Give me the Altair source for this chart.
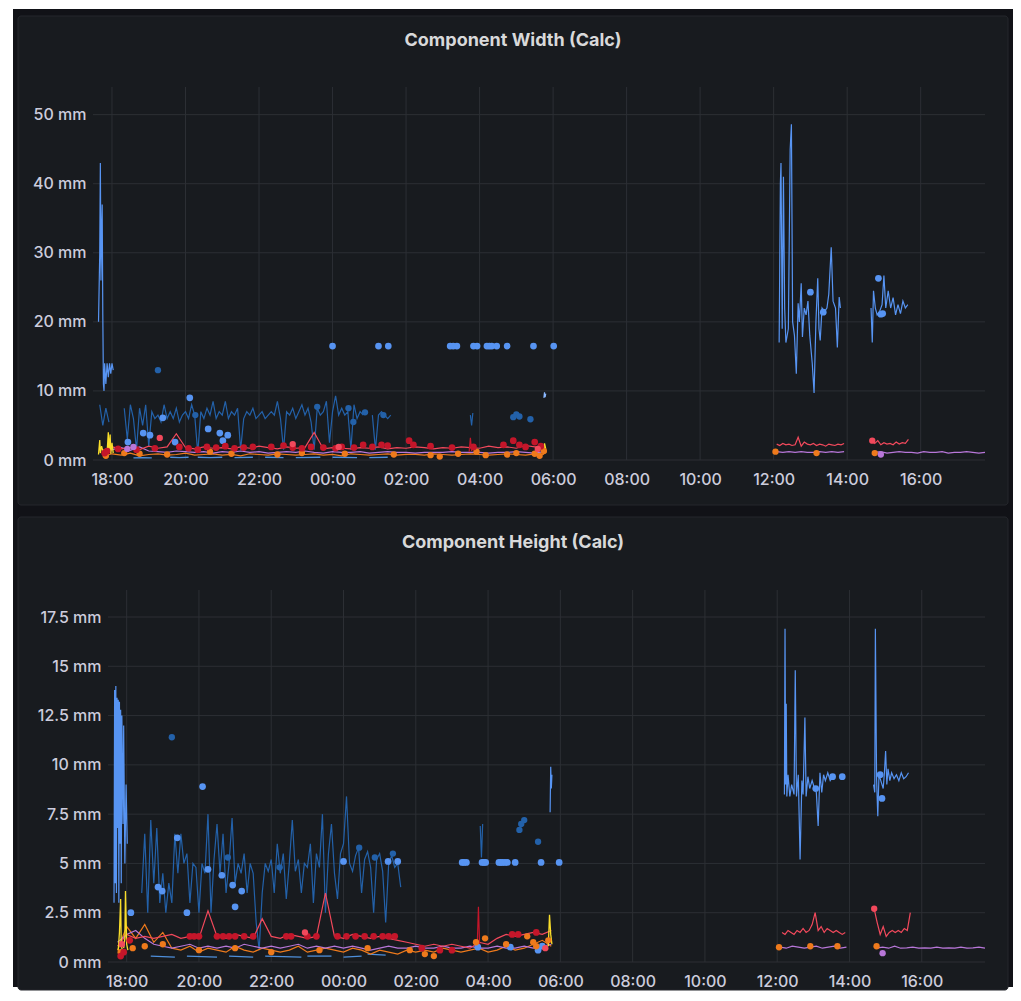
import altair as alt
import pandas as pd

# ---------------- labels / ticks ----------------
W_TITLE = "Component Width (Calc)"
H_TITLE = "Component Height (Calc)"
X_TICKS = ["18:00", "20:00", "22:00", "00:00", "02:00", "04:00", "06:00",
           "08:00", "10:00", "12:00", "14:00", "16:00"]
W_Y_TICKS = [0, 10, 20, 30, 40, 50]
H_Y_TICKS = [0, 2.5, 5, 7.5, 10, 12.5, 15, 17.5]

# ---------------- colours ----------------
C_LB = "#5794F2"
C_DB = "#2361a9"
C_XL = "#8AB8FF"
C_RED = "#F2495C"
C_DRED = "#C4162A"
C_ORANGE = "#EE7A1C"
C_PURPLE = "#B877D9"
C_YELLOW = "#FADE2A"
C_TEAL = "#4E8FDB"
OUTER = "#111217"
PANEL = "#181b1f"
BORDER = "#25272c"
GRID = "#2c2f34"
LABEL = "#ccccdc"
TITLE_C = "#d8d9da"

# ================= WIDTH panel data (mm) =================
W_LB_LINE = [
    ("17:38", 20), ("17:40", 30), ("17:41", 43), ("17:42", 26), ("17:43", 33), ("17:44", 37),
    ("17:45", 21), ("17:46", 11), ("17:47", 10), ("17:48", 14), ("17:50", 11), ("17:52", 14),
    ("17:54", 12), ("17:56", 14), ("17:58", 12.5), ("18:00", 14), ("18:02", 13),
    None,
    ("12:09", 17), ("12:11", 40), ("12:12", 43), ("12:14", 19), ("12:16", 41), ("12:18", 22),
    ("12:20", 17), ("12:24", 19), ("12:27", 45), ("12:29", 48.6), ("12:31", 20), ("12:34", 18),
    ("12:37", 12.5), ("12:40", 22.7), ("12:42", 20), ("12:45", 25.6), ("12:47", 17.8),
    ("12:50", 22), ("12:53", 21), ("12:56", 23), ("12:59", 18), ("13:03", 14), ("13:06", 9.7),
    ("13:09", 20), ("13:12", 26.3), ("13:14", 19), ("13:16", 17.3), ("13:19", 22),
    ("13:23", 21.5), ("13:27", 22), ("13:30", 24), ("13:34", 30.8), ("13:37", 23),
    ("13:41", 22), ("13:44", 16.3), ("13:47", 23.6), ("13:49", 22),
    None,
    ("14:39", 22), ("14:41", 17), ("14:43", 24.5), ("14:46", 22), ("14:49", 21), ("14:53", 21.5),
    ("14:57", 22.5), ("15:00", 26.7), ("15:03", 22), ("15:07", 24.5), ("15:11", 22),
    ("15:15", 23.5), ("15:19", 21), ("15:23", 22.5), ("15:27", 21.2), ("15:31", 23),
    ("15:35", 22), ("15:39", 22.5),
]
W_LB_PTS = [
    ("18:26", 2.6), ("18:51", 3.9), ("19:02", 3.6), ("19:23", 6.1), ("19:43", 2.6),
    ("20:07", 9.0), ("20:37", 4.5), ("20:56", 3.9), ("21:01", 2.8), ("21:09", 3.6),
    ("00:00", 16.5), ("01:15", 16.5), ("01:31", 16.5), ("03:12", 16.5), ("03:17", 16.5),
    ("03:23", 16.5), ("03:50", 16.5), ("03:56", 16.5), ("04:12", 16.5), ("04:16", 16.5),
    ("04:20", 16.5), ("04:28", 16.5), ("04:45", 16.5), ("05:28", 16.5), ("06:01", 16.5),
    ("13:00", 24.3), ("13:21", 21.4), ("14:51", 26.3), ("14:55", 21.1), ("14:58", 21.2),
]
W_DB_START, W_DB_STEP = "17:40", 5
W_DB_VALS = [
    8, 5, 7.5, 5.5,
    None, None, None, None, 7.5, 3, 8, 6, 1.5, 7.5, 5, 8,
    2, 7, 6, 6.5, 5.5, 8, 6, 7, 6, 7.5, 5.5, 6.5,
    7, 6, 8, 6.5, 1, 7, 6, 7.5, 6.5, 8.5, 6, 7,
    6.5, 8.5, 6, 7, 6.5, 7.5, 1.5, 6, 7, 6.5, 7.5, 6,
    6.5, 7, 6, 6.5, 7, 6.5, 8.5, 6, 1.5, 7, 6.5, 7.5,
    6, 7, 8, 6.5, 7.5, 5.5, 1.5, 7.5, 6.5, 7, 8.5, 2.5,
    7, 9.3, 6.5, 7.5, 6.5, 7, 1.5, 8, 6, 7, 6.5, None,
    None, 6.5, 1.5, 6.5, 7, 6.5, 6, 6.5,
]
W_DB_EXTRA = [("03:45", 6.5), ("03:47", 5.0), ("03:49", 6.8)]
W_DB_PTS = [
    ("19:15", 13.0), ("20:16", 6.5), ("23:35", 7.7), ("00:26", 7.5), ("00:34", 5.5),
    ("00:53", 6.9), ("01:23", 6.5), ("04:55", 6.2), ("05:00", 6.6), ("05:05", 6.3), ("05:23", 5.9),
]
W_XL_LINE = [("05:45", 9.0), ("05:46", 9.8), ("05:47", 9.1), ("05:48", 9.6)]

SMALL_START, SMALL_STEP = "17:45", 15
W_PURPLE_L = [1.2, 1.5, 1.8, 1.4, 1.9, 1.3, 1.2, 1.1, 1.3, 1.2, 1.1, 1.2,
              1.0, 1.2, 1.1, 1.3, 1.1, 1.2, 1.0, 1.1, 1.2, 1.1, 1.3, 1.1,
              1.0, 1.2, 1.1, 1.1, 1.2, 1.0, 1.1, 1.2, 1.1, 1.1, 1.0, 1.1,
              1.1, 1.1, 1.2, 1.1, 1.1, 1.1, 1.0, 1.1, 1.1, 1.2, 1.1, 1.0, 1.2]
W_PURPLE_R1 = [1.2, 1.1, 1.2, 1.1, 1.2, 1.1, 1.1, 1.2, 1.1, 1.2, 1.1, 1.2]
W_PURPLE_R2 = [1.1, 1.2, 1.0, 1.1, 1.2, 1.1, 1.1, 1.0, 1.2, 1.1, 1.1, 1.2, 1.0,
               1.1, 1.1, 1.2, 1.1, 1.0, 1.1]
W_ORANGE_L = [0.5, 0.9, 0.7, 1.0, 0.6, 0.8, 0.9, 0.7, 0.8, 1.0, 0.7, 0.8,
              0.9, 0.7, 0.8, 0.6, 0.9, 0.8, 0.7, 0.9, 0.8, 0.7, 0.8, 0.9,
              0.7, 0.8, 0.6, 0.9, 0.8, 0.7, 0.8, 0.9, 0.7, 0.8, 0.8, 0.7,
              0.9, 0.8, 0.7, 0.8, 0.9, 0.8, 0.7, 0.8, 0.9, 0.8, 0.7, 0.9, 0.8]
W_RED_L = [1.4, 1.9, 1.6, 1.8, 1.5, 2.0, 1.7, 1.9, 3.8, 1.8, 1.6, 1.9,
           1.7, 1.8, 1.6, 1.9, 1.7, 2.0, 1.8, 1.6, 1.9, 1.7, 1.8, 4.0,
           1.6, 1.8, 1.7, 1.6, 1.8, 1.7, 1.9, 1.6, 1.8, 1.7, 1.9, 1.8,
           1.6, 1.8, 1.7, 1.9, 1.8, 1.7, 2.0, 1.8, 1.9, 1.7, 2.1, 1.9, 1.6]
W_RED_R1 = [2.3, 2.1, 2.4, 2.2, 2.3, 2.1, 2.2, 3.3, 2.0, 2.6, 2.3, 2.2, 2.4, 2.1, 2.3,
            2.2, 2.0, 2.3, 2.2, 2.1, 2.3, 2.2, 2.4]
W_RED_R2 = [2.9, 2.4, 2.8, 2.2, 2.5, 2.3, 2.4, 2.2, 2.6, 2.3, 2.5, 2.4, 3.0]
W_DRED_LINE = [("03:43", 1.2), ("03:45", 3.2), ("03:47", 1.3)]
W_DRED_PTS = [
    ("17:48", 1.0), ("17:52", 1.3), ("18:10", 1.6), ("18:40", 1.5), ("19:10", 1.7), ("19:50", 1.9),
    ("20:05", 1.7), ("20:20", 1.5), ("20:35", 1.9), ("20:50", 1.8), ("21:05", 2.0), ("21:20", 1.7),
    ("21:35", 1.8), ("21:50", 1.9), ("22:20", 1.9), ("22:40", 2.1), ("22:55", 1.8), ("23:10", 1.7),
    ("23:25", 1.9), ("23:45", 1.8), ("00:05", 1.7), ("00:15", 1.9), ("00:35", 1.8), ("00:50", 2.2),
    ("01:05", 1.9), ("01:20", 2.2), ("01:30", 2.1), ("02:05", 2.8), ("02:12", 2.2), ("02:40", 2.0),
    ("03:15", 1.8), ("03:50", 1.9), ("04:39", 2.2), ("04:55", 2.8), ("05:05", 2.2), ("05:15", 1.9),
    ("05:30", 2.6), ("05:40", 2.0),
]
W_RED_PTS = [("19:18", 3.2), ("22:55", 2.3), ("00:10", 1.9), ("05:35", 1.6), ("14:41", 2.8)]
W_ORANGE_PTS = [
    ("17:50", 0.6), ("18:20", 1.0), ("18:45", 0.9), ("19:30", 0.8), ("20:40", 1.2), ("21:15", 0.9),
    ("22:30", 0.8), ("23:10", 1.0), ("00:20", 0.9), ("01:40", 0.8), ("02:40", 0.7), ("02:55", 0.5),
    ("03:25", 0.9), ("03:55", 1.2), ("04:10", 0.7), ("04:45", 0.8), ("05:00", 1.0), ("05:30", 0.9),
    ("05:38", 0.6), ("05:45", 1.3), ("12:03", 1.2), ("13:10", 1.0), ("14:45", 1.0),
]
W_PURPLE_PTS = [("18:25", 1.6), ("18:35", 1.9), ("14:55", 0.8)]
W_TEAL = [("18:35", 0.3), ("18:50", 0.35), ("19:05", 0.3), None, ("19:35", 0.4), ("19:50", 0.35),
          ("20:05", 0.4), None, ("20:20", 0.4), ("20:40", 0.35), ("21:00", 0.4), None,
          ("21:20", 0.35), ("21:50", 0.4), None, ("22:10", 0.4), ("22:40", 0.35), None,
          ("23:00", 0.35), ("23:40", 0.4), None, ("00:00", 0.4), ("00:40", 0.35), None,
          ("01:00", 0.35), ("01:30", 0.4)]
W_YELLOW = [("17:38", 0.8), ("17:40", 2.9), ("17:41", 1.0), ("17:43", 2.0), ("17:46", 1.0), None,
            ("17:52", 1.0), ("17:54", 4.0), ("17:55", 1.2), ("17:57", 3.7), ("17:58", 0.9),
            ("18:00", 2.5), ("18:02", 1.0), None, ("05:44", 1.0), ("05:46", 2.4), ("05:48", 1.6)]

# ================= HEIGHT panel data (mm) =================
H_LB_LINE = [
    ("17:39", 3.0), ("17:40", 13.8), ("17:41", 4.0), ("17:42", 14.0), ("17:43", 3.5), ("17:44", 13.4),
    ("17:45", 6.8), ("17:46", 13.3), ("17:47", 3.0), ("17:48", 13.2), ("17:49", 6.0), ("17:50", 12.8),
    ("17:51", 4.0), ("17:52", 12.5), ("17:54", 7.0), ("17:55", 12.0), ("17:57", 5.0), ("17:59", 9.0),
    ("18:01", 6.0),
    None,
    ("05:43", 7.6), ("05:44", 9.9), ("05:45", 8.8), ("05:46", 9.5),
    None,
    ("12:12", 8.5), ("12:13", 16.9), ("12:14", 9.0), ("12:15", 13.1), ("12:16", 8.4), ("12:18", 9.5),
    ("12:21", 8.4), ("12:24", 9.0), ("12:28", 8.5), ("12:30", 14.8), ("12:32", 8.4), ("12:35", 9.5),
    ("12:38", 5.2), ("12:41", 9.2), ("12:43", 8.5), ("12:46", 12.4), ("12:48", 8.4), ("12:51", 9.4),
    ("12:54", 8.8), ("12:58", 9.2), ("13:02", 8.8), ("13:05", 8.6), ("13:08", 6.9), ("13:11", 9.6),
    ("13:14", 8.6), ("13:17", 9.5), ("13:20", 9.2), ("13:24", 9.6), ("13:28", 9.2), ("13:32", 9.4),
    None,
    ("14:40", 9.0), ("14:42", 8.6), ("14:43", 16.9), ("14:45", 9.3), ("14:47", 7.4), ("14:49", 9.5),
    ("14:52", 9.2), ("14:56", 8.8), ("14:58", 9.6), ("15:00", 10.7), ("15:02", 9.0), ("15:04", 9.8),
    ("15:07", 9.2), ("15:10", 9.6), ("15:14", 9.3), ("15:18", 9.5), ("15:22", 9.2), ("15:26", 9.6),
    ("15:30", 9.3), ("15:34", 9.4), ("15:38", 9.6),
]
H_LB_PTS = [
    ("18:07", 2.5), ("18:52", 3.8), ("18:59", 3.6), ("19:24", 6.3), ("19:40", 2.5), ("20:06", 8.9),
    ("20:15", 4.7), ("20:38", 4.4), ("20:56", 3.9), ("21:00", 2.8), ("21:11", 3.6),
    ("00:00", 5.1), ("01:14", 5.1), ("01:30", 5.1), ("03:17", 5.05), ("03:20", 5.05),
    ("03:24", 5.05), ("03:50", 5.05), ("03:53", 5.05), ("03:56", 5.05), ("04:18", 5.05),
    ("04:21", 5.05), ("04:24", 5.05), ("04:28", 5.05), ("04:32", 5.05), ("04:45", 5.05),
    ("05:28", 5.05), ("05:58", 5.05),
    ("13:04", 8.8), ("13:32", 9.4), ("13:48", 9.4), ("14:51", 9.5), ("14:54", 8.3),
    ("03:43", 0.75), ("04:37", 0.75), ("05:23", 0.6), ("05:30", 0.8),
]
H_DB_START, H_DB_STEP = "18:25", 5
H_DB_VALS = [
    3.5, 6.5, 2.5, 7.2, 4, 6.8, 3,
    4.5, 2.5, 4, 3, 6.5, 4.5, 6.5, 5, 5.5, 3, 5, 4.8,
    2.5, 5, 4.5, 7.5, 2.5, 5.2, 7, 4.5, 6.5, 3.5, 5, 7.3,
    4, 5, 4.5, 5.5, 3.5, 5, 4.5, 2, 0.6, 3.5, 5, 4.6,
    5.2, 3.5, 6, 4.5, 5.5, 3.2, 5, 7.2, 4.6, 5.2, 3.5, 5,
    4.8, 6, 3, 5.5, 4.8, 7.5, 2.5, 5.5, 7, 4.5, 3.2, 5.5,
    6, 8.4, 5, 4.6, 5.4, 5.8, 3.5, 5.2, 5.6, 4.8, 2.5, 5.2,
    5.5, 4.6, 2, 5, 5.4, 4.8, 5, 3.8,
]
H_DB_EXTRA = [("03:47", 6.9), ("03:49", 5.3), ("03:51", 7.0)]
H_DB_PTS = [
    ("19:15", 11.4), ("20:48", 5.3), ("22:14", 4.8), ("00:26", 5.8), ("00:52", 5.3),
    ("01:22", 5.5), ("04:52", 6.7), ("04:55", 7.0), ("05:00", 7.2), ("05:23", 6.1),
]
H_PURPLE_L = [1.0, 1.4, 1.6, 1.2, 0.9, 0.8, 0.7, 0.8, 0.9, 0.7, 0.8, 0.7,
              0.8, 0.7, 0.9, 0.8, 0.7, 0.8, 0.7, 0.8, 0.9, 0.7, 0.8, 0.7,
              0.8, 0.7, 0.8, 0.7, 0.6, 0.7, 0.8, 0.7, 0.7, 0.8, 0.7, 0.7,
              0.8, 0.7, 0.7, 0.8, 0.7, 0.7, 0.8, 0.7, 0.7, 0.8, 0.7, 0.8, 0.9]
H_PURPLE_R1 = [0.75, 0.7, 0.8, 0.75, 0.7, 0.75, 0.8, 0.7, 0.75, 0.8, 0.7, 0.75]
H_PURPLE_R2 = [0.7, 0.75, 0.7, 0.8, 0.7, 0.72, 0.75, 0.7, 0.72, 0.7, 0.75, 0.7, 0.72,
               0.7, 0.75, 0.7, 0.72, 0.75, 0.7]
H_ORANGE_L = [0.6, 1.8, 1.2, 1.9, 1.0, 1.5, 0.7, 0.6, 0.8, 0.5, 0.7, 0.6,
              0.5, 0.8, 0.6, 0.5, 0.7, 0.6, 0.5, 0.6, 0.8, 0.5, 0.6, 0.7,
              0.6, 0.5, 0.7, 0.6, 0.4, 0.6, 0.5, 0.4, 0.6, 0.5, 0.6, 0.5,
              0.7, 0.6, 0.5, 0.6, 0.7, 0.5, 0.6, 0.8, 0.6, 0.7, 0.9, 1.1, 0.8]
H_RED_L = [0.8, 1.4, 1.2, 1.3, 1.2, 1.3, 1.4, 1.2, 1.3, 1.2, 2.6, 1.3,
           1.2, 1.4, 1.3, 1.2, 2.2, 1.3, 1.2, 1.4, 1.3, 1.2, 1.3, 3.5,
           1.3, 1.2, 1.4, 1.3, 1.2, 1.3, 1.2, 1.1, 1.0, 0.9, 0.8, 0.9,
           0.8, 0.9, 0.8, 0.7, 1.0, 0.9, 1.2, 1.4, 1.3, 1.4, 1.5, 1.4, 1.6]
H_RED_R1 = [1.5, 1.4, 1.6, 1.5, 1.4, 1.6, 1.5, 1.7, 1.5, 1.6, 1.9, 2.5, 1.6, 1.8, 1.5,
            1.7, 1.6, 1.5, 1.6, 1.5, 1.4, 1.5]
H_RED_R2 = [2.7, 2.0, 1.4, 1.8, 1.3, 1.5, 1.6, 1.5, 1.6, 1.5, 1.7, 1.6, 2.5]
H_DRED_LINE = [("03:42", 0.8), ("03:44", 2.8), ("03:46", 0.8)]
H_DRED_PTS = [
    ("17:50", 0.3), ("17:55", 0.5), ("18:05", 1.1), ("19:45", 1.3), ("19:52", 1.3), ("20:00", 1.3),
    ("20:30", 1.3), ("20:40", 1.3), ("20:50", 1.3), ("21:00", 1.3), ("21:15", 1.3), ("21:30", 1.3),
    ("22:25", 1.3), ("22:33", 1.3), ("23:00", 1.3), ("23:15", 1.3), ("23:50", 1.3), ("00:05", 1.3),
    ("00:20", 1.3), ("00:35", 1.3), ("00:50", 1.3), ("01:05", 1.3), ("01:15", 1.3), ("01:25", 1.3),
    ("02:10", 0.7), ("02:40", 0.6), ("03:00", 0.6), ("04:40", 1.4), ("04:50", 1.4), ("05:20", 1.5),
]
H_RED_PTS = [("17:52", 0.9), ("22:56", 1.5), ("14:41", 2.7), ("05:35", 0.7)]
H_ORANGE_PTS = [
    ("17:50", 0.5), ("18:10", 0.7), ("18:30", 0.8), ("19:00", 0.9), ("20:00", 0.6), ("21:00", 0.7),
    ("22:00", 0.5), ("23:20", 0.6), ("00:40", 0.7), ("01:50", 0.6), ("02:15", 0.4), ("02:30", 0.3),
    ("03:40", 1.0), ("03:55", 1.2), ("04:30", 0.9), ("05:05", 1.3), ("05:15", 1.0), ("05:20", 0.8),
    ("05:40", 1.1), ("12:03", 0.75), ("12:55", 0.8), ("13:40", 0.8), ("14:45", 0.8),
]
H_PURPLE_PTS = [("14:55", 0.45)]
H_TEAL = [("18:40", 0.3), ("19:20", 0.25), None, ("19:40", 0.3), ("20:30", 0.25), None,
          ("20:50", 0.3), ("21:30", 0.25), None, ("21:50", 0.3), ("22:50", 0.25), None,
          ("23:00", 0.3), ("23:40", 0.3), None, ("00:00", 0.25), ("00:30", 0.3), None,
          ("00:40", 0.4), ("01:10", 0.35)]
H_YELLOW = [("17:46", 0.6), ("17:48", 1.5), ("17:50", 3.2), ("17:51", 0.8), ("17:53", 0.6), None,
            ("17:55", 0.7), ("17:57", 1.2), ("17:58", 3.6), ("18:00", 0.9), ("18:02", 0.6), None,
            ("05:40", 0.8), ("05:42", 2.4), ("05:44", 1.4), ("05:46", 0.9)]


# ---------------- helpers ----------------
def abs_min(hm):
    h, m = map(int, hm.split(":"))
    t = h * 60 + m
    return t if h >= 17 else t + 1440


def stamp(mins):
    day = 4 + mins // 1440
    mm = mins % 1440
    return f"2024-03-{day:02d}T{mm // 60:02d}:{mm % 60:02d}:00"


def stepped(start, step, vals):
    t0 = abs_min(start)
    return [None if v is None else (t0 + i * step, v) for i, v in enumerate(vals)]


def pairs(lst):
    return [None if p is None else (abs_min(p[0]), p[1]) for p in lst]


def line_df(items):
    rows, seg = [], 0
    for it in items:
        if it is None:
            seg += 1
            continue
        rows.append({"g": seg, "t": stamp(it[0]), "v": it[1]})
    return pd.DataFrame(rows)


def pts_df(items):
    return pd.DataFrame([{"t": stamp(abs_min(a)), "v": b} for a, b in items])


def dt(hm):
    h, m = map(int, hm.split(":"))
    d = 4 if abs_min(hm) < 1440 else 5
    return alt.DateTime(year=2024, month=3, date=d, hours=h, minutes=m)


DOMAIN = [alt.DateTime(year=2024, month=3, date=4, hours=17, minutes=29),
          alt.DateTime(year=2024, month=3, date=5, hours=17, minutes=45)]
FONT = "Inter"
PW = 892


def x_enc(rng):
    return alt.X(
        "t:T", title=None,
        scale=alt.Scale(domain=DOMAIN, range=rng),
        axis=alt.Axis(values=[dt(x) for x in X_TICKS], format="%H:%M", grid=False,
                      domain=False, ticks=False, labelPadding=11, labelFlush=False,
                      labelOverlap=False, labelColor=LABEL, labelFont=FONT,
                      labelFontSize=16, labelFontWeight=500, zindex=1),
    )


def y_enc(top, ticks, offset):
    return alt.Y(
        "v:Q", title=None,
        scale=alt.Scale(domain=[0, top], nice=False, zero=True),
        axis=alt.Axis(values=ticks, labelExpr="datum.value + ' mm'", grid=False,
                      domain=False, ticks=False, labelPadding=7, offset=offset,
                      labelColor=LABEL, labelFont=FONT, labelFontSize=16,
                      labelFontWeight=500, zindex=1),
    )


DUMMY = pd.DataFrame({"d": [0]})


def deco_rect(color, x1, x2, y1, y2, stroke=None, radius=0):
    kw = dict(color=color, cornerRadius=radius)
    if stroke:
        kw.update(stroke=stroke, strokeWidth=1)
    return alt.Chart(DUMMY).mark_rect(**kw).encode(
        x=alt.value(x1), x2=alt.value(x2), y=alt.value(y1), y2=alt.value(y2))


def panel(title, title_y, height, top, ticks, xr, yoff, grid_x0, lines, points,
          panel_box, outer=None):
    X = x_enc(xr)
    Y = y_enc(top, ticks, yoff)
    layers = []
    if outer is not None:
        layers.append(deco_rect(OUTER, *outer))
    layers.append(deco_rect(PANEL, *panel_box, stroke=BORDER, radius=3))
    layers.append(alt.Chart(DUMMY).mark_text(
        text=title, font=FONT, fontSize=18, fontWeight="bold", color=TITLE_C,
        align="center", baseline="middle").encode(x=alt.value(420), y=alt.value(title_y)))
    layers.append(alt.Chart(pd.DataFrame({"t": [stamp(abs_min(x)) for x in X_TICKS]}))
                  .mark_rule(color=GRID, strokeWidth=1)
                  .encode(x=X, y=alt.value(0), y2=alt.value(height)))
    layers.append(alt.Chart(pd.DataFrame({"v": ticks}))
                  .mark_rule(color=GRID, strokeWidth=1)
                  .encode(y=Y, x=alt.value(grid_x0), x2=alt.value(PW)))
    for items, color, w in lines:
        layers.append(alt.Chart(line_df(items)).mark_line(color=color, strokeWidth=w)
                      .encode(x=X, y=Y, detail="g:N"))
    for items, color, size in points:
        layers.append(alt.Chart(pts_df(items)).mark_circle(color=color, size=size, opacity=1)
                      .encode(x=X, y=Y))
    return alt.layer(*layers).properties(width=PW, height=height)


W_LINES = [
    (stepped(W_DB_START, W_DB_STEP, W_DB_VALS) + [None] + pairs(W_DB_EXTRA), C_DB, 1.2),
    (pairs(W_LB_LINE), C_LB, 1.2),
    (pairs(W_XL_LINE), C_XL, 1.2),
    (pairs(W_TEAL), C_TEAL, 1.3),
    (stepped(SMALL_START, SMALL_STEP, W_ORANGE_L), C_ORANGE, 1.2),
    (stepped(SMALL_START, SMALL_STEP, W_PURPLE_L) + [None] + stepped("12:05", 10, W_PURPLE_R1)
     + [None] + stepped("14:45", 10, W_PURPLE_R2), C_PURPLE, 1.2),
    (stepped(SMALL_START, SMALL_STEP, W_RED_L) + [None] + stepped("12:05", 5, W_RED_R1)
     + [None] + stepped("14:40", 5, W_RED_R2), C_RED, 1.2),
    (pairs(W_DRED_LINE), C_DRED, 1.2),
    (pairs(W_YELLOW), C_YELLOW, 1.3),
]
W_POINTS = [
    (W_DB_PTS, C_DB, 40), (W_LB_PTS, C_LB, 45), (W_ORANGE_PTS, C_ORANGE, 40),
    (W_DRED_PTS, C_DRED, 45), (W_RED_PTS, C_RED, 40), (W_PURPLE_PTS, C_PURPLE, 40),
]
H_LINES = [
    (stepped(H_DB_START, H_DB_STEP, H_DB_VALS) + [None] + pairs(H_DB_EXTRA), C_DB, 1.2),
    (pairs(H_LB_LINE), C_LB, 1.2),
    (pairs(H_TEAL), C_TEAL, 1.3),
    (stepped(SMALL_START, SMALL_STEP, H_ORANGE_L), C_ORANGE, 1.2),
    (stepped(SMALL_START, SMALL_STEP, H_PURPLE_L) + [None] + stepped("12:05", 10, H_PURPLE_R1)
     + [None] + stepped("14:45", 10, H_PURPLE_R2), C_PURPLE, 1.2),
    (stepped(SMALL_START, SMALL_STEP, H_RED_L) + [None] + stepped("12:08", 5, H_RED_R1)
     + [None] + stepped("14:41", 5, H_RED_R2), C_RED, 1.2),
    (pairs(H_DRED_LINE), C_DRED, 1.2),
    (pairs(H_YELLOW), C_YELLOW, 1.3),
]
H_POINTS = [
    (H_DB_PTS, C_DB, 40), (H_LB_PTS, C_LB, 45), (H_ORANGE_PTS, C_ORANGE, 40),
    (H_DRED_PTS, C_DRED, 45), (H_RED_PTS, C_RED, 40), (H_PURPLE_PTS, C_PURPLE, 40),
]

p1 = panel(W_TITLE, -46, 373, 54, W_Y_TICKS, [0, PW], 0, 0, W_LINES, W_POINTS,
           panel_box=(-75, 915, -71, 418), outer=(-80, 920, -78, 900))
p2 = panel(H_TITLE, -47, 372, 18.87, H_Y_TICKS, [15, PW], -15, 15, H_LINES, H_POINTS,
           panel_box=(-75, 915, -73, 400))

chart = alt.vconcat(p1, p2, spacing=130, bounds="flush").properties(
    background="white",
    padding={"left": 5, "top": 1, "right": 0, "bottom": 0},
).configure_view(stroke=None)

chart.save("out.html", embed_options={"renderer": "svg", "actions": False})
